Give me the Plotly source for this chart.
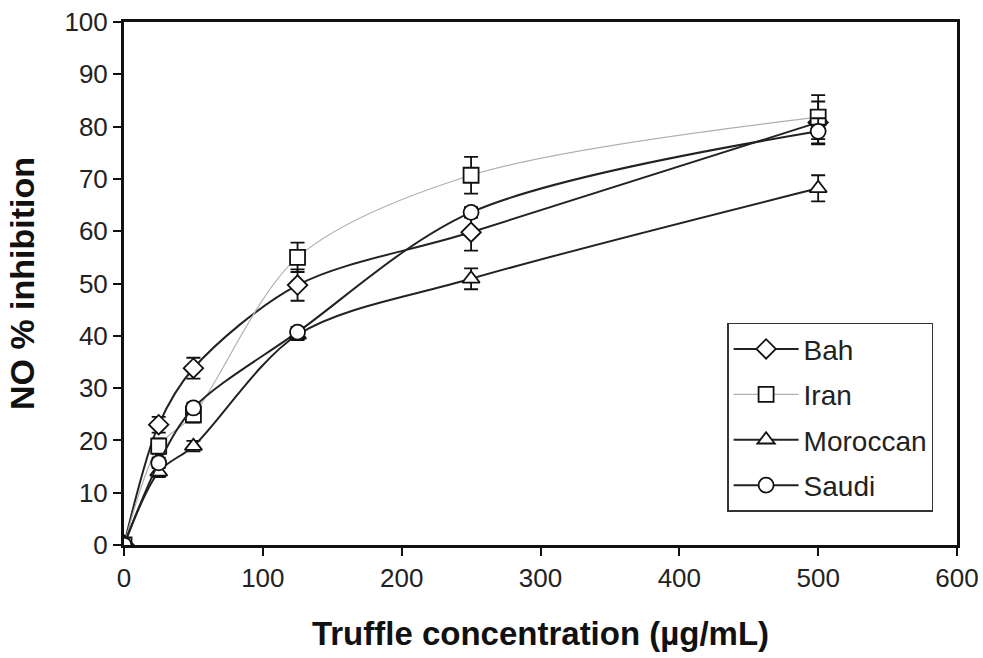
import plotly.graph_objects as go

conc = [0, 25, 50, 125, 250, 500]
series_names = ["Bah", "Iran", "Moroccan", "Saudi"]
bah = [0, 23, 33.8, 49.7, 59.8, 80.8]
iran = [0, 18.9, 24.9, 55.0, 70.7, 81.8]
moroccan = [0, 14.0, 18.9, 40.2, 50.9, 68.2]
saudi = [0, 15.7, 26.2, 40.7, 63.6, 79.1]
bah_err = [0, 1.5, 2.0, 3.0, 3.5, 4.0]
iran_err = [0, 1.5, 1.5, 2.8, 3.5, 4.2]
moroccan_err = [0, 1.0, 1.0, 1.0, 2.0, 2.5]
saudi_err = [0, 1.0, 1.0, 1.0, 1.0, 2.5]
symbols = ["diamond", "square", "triangle-up", "circle"]
line_colors = ["#222222", "#b0b0b0", "#222222", "#222222"]
line_widths = [2, 1.2, 2, 2]

values = [bah, iran, moroccan, saudi]
errors = [bah_err, iran_err, moroccan_err, saudi_err]

fig = go.Figure()
for name, y, e, sym, lc, lw in zip(series_names, values, errors, symbols, line_colors, line_widths):
    fig.add_trace(go.Scatter(
        x=conc, y=y, name=name, legendgroup=name, mode="lines+markers",
        line=dict(color=lc, width=lw, shape="spline", smoothing=0.9),
        marker=dict(symbol=sym, size=15, color="white", line=dict(width=1.8, color="#111111")),
        error_y=dict(type="data", array=e, visible=True, color="#111111", thickness=1.8, width=7),
    ))

fig.update_layout(
    width=983, height=658,
    margin=dict(l=124, r=26, t=22, b=113, autoexpand=False),
    paper_bgcolor="white", plot_bgcolor="white",
    font=dict(family="Liberation Sans, Arial", size=26, color="#222222"),
    showlegend=True,
    legend=dict(
        x=0.724, y=0.425, xanchor="left", yanchor="top",
        bordercolor="#333333", borderwidth=1.5, bgcolor="white",
        font=dict(size=28, color="#222222"),
        itemwidth=65, tracegroupgap=6, entrywidth=212,
    ),
    xaxis=dict(
        range=[0, 600], tickvals=[0, 100, 200, 300, 400, 500, 600],
        showline=True, linecolor="#111111", linewidth=3, mirror=True,
        ticks="outside", ticklen=8, tickwidth=1.5, tickcolor="#111111",
        showgrid=False, zeroline=False, automargin=False,
        title=dict(text="<b>Truffle concentration (µg/mL)</b>", font=dict(size=33, color="#111111"), standoff=30),
    ),
    yaxis=dict(
        range=[0, 100], tickvals=list(range(0, 101, 10)),
        showline=True, linecolor="#111111", linewidth=3, mirror=True,
        ticks="outside", ticklen=8, tickwidth=1.5, tickcolor="#111111",
        showgrid=False, zeroline=False, automargin=False,
        title=dict(text="<b>NO % inhibition</b>", font=dict(size=34, color="#111111"), standoff=20),
    ),
)

fig.write_html("out.html")
